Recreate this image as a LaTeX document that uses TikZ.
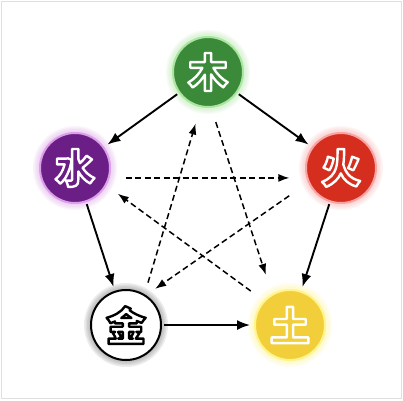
\documentclass[tikz,border=0pt]{standalone}
\usepackage{fontspec}
\newfontfamily\cjk{Noto Sans CJK SC}
\usetikzlibrary{arrows.meta}
\definecolor{mugreen}{RGB}{58,138,58}
\definecolor{muglow}{RGB}{170,230,160}
\definecolor{huored}{RGB}{214,46,30}
\definecolor{huoglow}{RGB}{250,165,165}
\definecolor{shuipurple}{RGB}{106,30,134}
\definecolor{shuiglow}{RGB}{220,160,232}
\definecolor{tuyellow}{RGB}{242,206,58}
\definecolor{tuglow}{RGB}{255,245,140}
\definecolor{jinglow}{RGB}{110,110,110}
%% outlined glyph: fill in #1, stroke in the rgb triple #2
\newcommand{\outlinedglyph}[3]{\textcolor{#1}{\special{pdf:literal direct 2 Tr 2.4 w 1 j #2 RG}#3\special{pdf:literal direct 0 Tr}}}
\begin{document}
\begin{tikzpicture}
[x=1pt,y=-1pt,
  element/.style={shape=circle,minimum size=70pt,inner sep=0pt,line width=2pt},%
  glyph/.style={inner sep=0pt,font=\cjk\bfseries\fontsize{40}{40}\selectfont},%
  solidarrow/.style={-{Latex[length=13pt,width=10pt]},line width=1.9pt,shorten <=2pt,shorten >=4pt},%
  dashedarrow/.style={-{Latex[length=11pt,width=8pt]},line width=1.5pt,dash pattern=on 6pt off 3.5pt}]
\useasboundingbox (0,0) rectangle (403,400);
\fill[white] (0,0) rectangle (403,400);
\draw[black!12] (1,1) rectangle (401,398);
%% nodes with their glow
\foreach \nodename/\x/\y/\fillc/\glowc/\rimc/\glyph/\strokec in {
  mu/208/72/mugreen/muglow/muglow/木/{1 1 1},
  huo/341/168/huored/huoglow/huoglow/火/{1 1 1},
  tu/290/325/tuyellow/tuglow/tuglow/土/{1 1 1},
  jin/126/325/white/jinglow/black/金/{0 0 0},
  shui/75/168/shuipurple/shuiglow/shuiglow/水/{1 1 1}} {
  \foreach \r in {36,37.5,...,42}
    \fill[\glowc,opacity=0.12] (\x,\y) circle (\r pt);
  \node (\nodename) at (\x,\y) [element,fill=\fillc,draw=\rimc,glyph]
    {\outlinedglyph{\fillc}{\strokec}{\glyph}};
}
%% generating cycle
\path
\foreach \startnode/\endnode in {mu/huo, huo/tu, jin/tu, shui/jin, mu/shui} {
  (\startnode) edge[solidarrow] (\endnode)
};
%% overcoming star
\foreach \startnode/\sa/\endnode/\ea/\s/\e in {shui/-16/huo/196/16/17,
  jin/59/mu/-102/12/17, mu/-85/tu/120/15/20, tu/137/shui/-29/16/14,
  huo/204/jin/56/23/11} {
  \draw[dashedarrow,shorten <=\s pt,shorten >=\e pt] (\startnode.\sa) -- (\endnode.\ea);
}
\end{tikzpicture}
\end{document}
